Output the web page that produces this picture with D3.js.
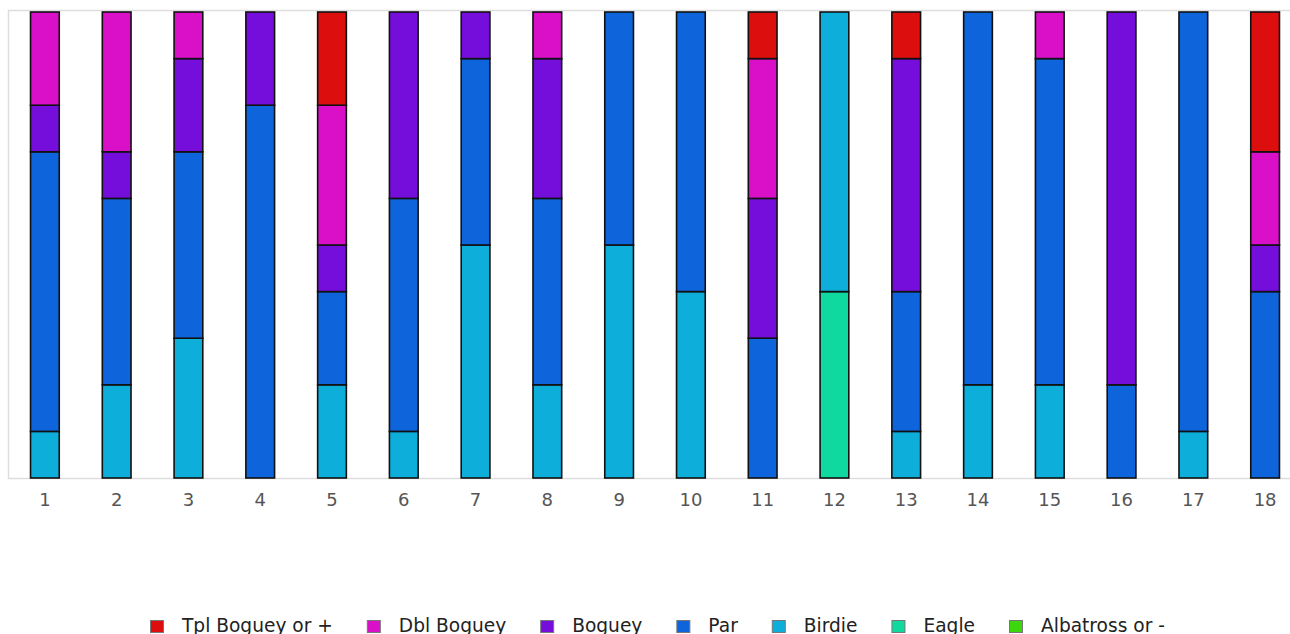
<!DOCTYPE html>
<html>
<head>
<meta charset="utf-8">
<script src="https://cdn.jsdelivr.net/npm/d3@7"></script>
<style>
  body { margin: 0; background: #fff; overflow: hidden; }
  svg { display: block; font-family: "DejaVu Sans", sans-serif; }
</style>
</head>
<body>
<div id="chart"></div>
<script>
const holes = ["1","2","3","4","5","6","7","8","9","10","11","12","13","14","15","16","17","18"];
const tplBogey = [0,0,0,0,2,0,0,0,0,0,1,0,1,0,0,0,0,3];
const dblBogey = [2,3,1,0,3,0,0,1,0,0,3,0,0,0,1,0,0,2];
const bogey    = [1,1,2,2,1,4,1,3,0,0,3,0,5,0,0,8,0,1];
const par      = [6,4,4,8,2,5,4,4,5,6,3,0,3,8,7,2,9,4];
const birdie   = [1,2,3,0,2,1,5,2,5,4,0,6,1,2,2,0,1,0];
const eagle    = [0,0,0,0,0,0,0,0,0,0,0,4,0,0,0,0,0,0];
const albatross= [0,0,0,0,0,0,0,0,0,0,0,0,0,0,0,0,0,0];

const seriesNames = ["Tpl Boguey or +","Dbl Boguey","Boguey","Par","Birdie","Eagle","Albatross or -"];
const seriesColors = ["#dc0e0e","#da0fc8","#760edb","#0e64da","#0eaedb","#10d9a0","#3dd70e"];
const seriesValues = [tplBogey, dblBogey, bogey, par, birdie, eagle, albatross];

const width = 1290, height = 634;
const plot = { left: 9, right: 1301, top: 12, bottom: 478 };

const rows = holes.map((h, i) => {
  const r = { hole: h };
  seriesNames.forEach((s, k) => r[s] = seriesValues[k][i]);
  return r;
});

// stacked bottom-up: albatross first
const keys = seriesNames.slice().reverse();
const stack = d3.stack().keys(keys).offset(d3.stackOffsetExpand);
const layers = stack(rows);
const color = d3.scaleOrdinal().domain(seriesNames).range(seriesColors);

const svg = d3.select("#chart").append("svg")
  .attr("width", width)
  .attr("height", height);

const x = d3.scaleBand()
  .domain(holes)
  .range([plot.left, plot.right])
  .paddingInner(0.6)
  .paddingOuter(0.3);

const y = d3.scaleLinear()
  .domain([0, 1])
  .range([plot.bottom, plot.top]);

// plot frame
svg.append("rect")
  .attr("x", plot.left - 0.5)
  .attr("y", plot.top - 1.5)
  .attr("width", plot.right - plot.left + 10)
  .attr("height", plot.bottom - plot.top + 2)
  .attr("fill", "none")
  .attr("stroke", "#dddddd")
  .attr("stroke-width", 1.5);

svg.append("g")
  .selectAll("g")
  .data(layers)
  .join("g")
  .attr("fill", d => color(d.key))
  .selectAll("rect")
  .data(d => d.filter(p => p[1] - p[0] > 0))
  .join("rect")
  .attr("x", d => x(d.data.hole))
  .attr("y", d => y(d[1]))
  .attr("height", d => y(d[0]) - y(d[1]))
  .attr("width", x.bandwidth())
  .attr("stroke", "#111")
  .attr("stroke-width", 1.6);

// hole labels
const xAxis = svg.append("g")
  .attr("transform", `translate(0,${plot.bottom})`)
  .call(d3.axisBottom(x).tickSize(0).tickPadding(15));
xAxis.select(".domain").remove();
xAxis.selectAll("text")
  .attr("font-size", 18)
  .attr("font-family", "DejaVu Sans, sans-serif")
  .attr("fill", "#555");

// legend
const legend = svg.append("g").attr("font-size", 18.6);
let lx = 150;
seriesNames.forEach((name, i) => {
  const item = legend.append("g").attr("transform", `translate(${lx},0)`);
  item.append("rect")
    .attr("x", 0.5).attr("y", 620.5)
    .attr("width", 13).attr("height", 12)
    .attr("fill", seriesColors[i])
    .attr("stroke", "#777")
    .attr("stroke-width", 1);
  const t = item.append("text")
    .attr("x", 32).attr("y", 632)
    .attr("fill", "#222")
    .text(name);
  lx += 32 + t.node().getComputedTextLength() + 34;
});
</script>
</body>
</html>
